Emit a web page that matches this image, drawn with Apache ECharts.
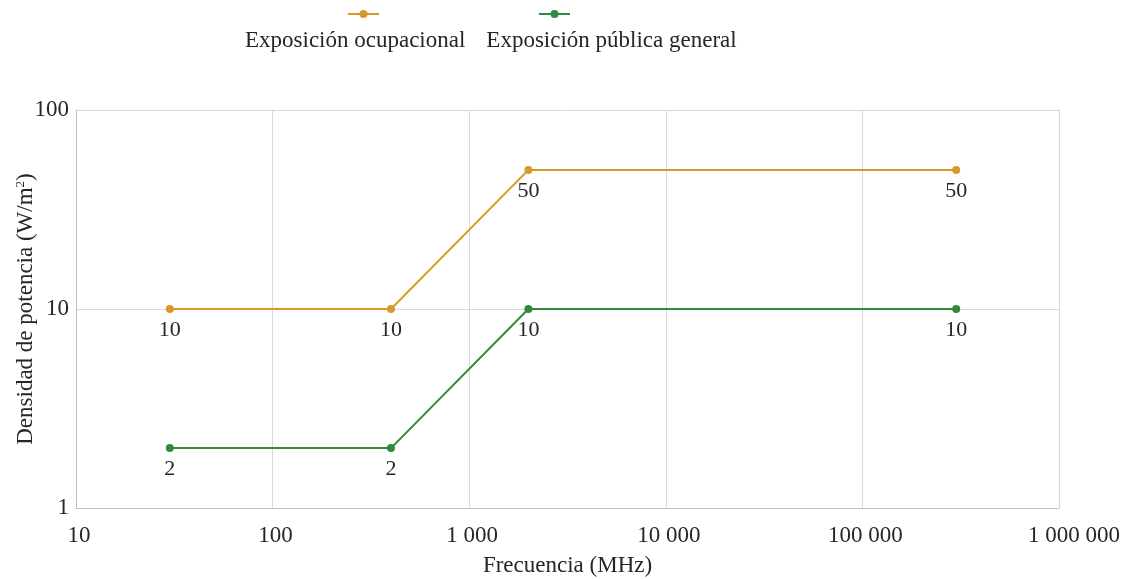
<!DOCTYPE html>
<html><head><meta charset="utf-8">
<script src="https://cdn.jsdelivr.net/npm/echarts@6/dist/echarts.min.js"></script>
<style>html,body{margin:0;padding:0;background:#fff}#c{width:1129px;height:579px}</style>
</head><body><div id="c"></div>
<script>
const seriesNames = ['Exposición ocupacional', 'Exposición pública general'];
const freqOcc = [30, 400, 2000, 300000];
const valOcc = [10, 10, 50, 50];
const freqPub = [30, 400, 2000, 300000];
const valPub = [2, 2, 10, 10];
const colors = ['#D8992B', '#2E8B3E'];

const font = 'Liberation Serif';
const txt = '#262626';
const fmt = v => String(Math.round(v)).replace(/\B(?=(\d{3})+(?!\d))/g, ' ');

const chart = echarts.init(document.getElementById('c'));
chart.setOption({
  animation: false,
  textStyle: { fontFamily: font },
  color: colors,
  legend: [
    {
      data: seriesNames, left: 347, top: 9, padding: 0, itemWidth: 31, itemHeight: 10, itemGap: 158,
      formatter: () => '', selectedMode: false,
      textStyle: { fontFamily: font, fontSize: 23 }
    },
    {
      data: seriesNames, left: 239, top: 29, padding: 0, itemWidth: 0, itemHeight: 0, itemGap: 15,
      selectedMode: false,
      itemStyle: { opacity: 0 }, lineStyle: { opacity: 0 },
      textStyle: { fontFamily: font, fontSize: 23, color: txt }
    }
  ],
  grid: { left: 76, right: 70, top: 110, bottom: 71, containLabel: false, outerBoundsMode: 'none' },
  xAxis: {
    type: 'log', logBase: 10, min: 10, max: 1000000,
    name: 'Frecuencia (MHz)', nameLocation: 'middle', nameGap: 46, nameMoveOverlap: false,
    nameTextStyle: { fontFamily: font, fontSize: 23, color: txt },
    axisLine: { lineStyle: { color: '#bfbfbf' } },
    axisTick: { show: false },
    axisLabel: {
      formatter: v => v >= 1000000 ? '{last|' + fmt(v) + '}' : fmt(v),
      fontFamily: font, fontSize: 23, color: txt, margin: 16, padding: [0, 0, 0, 6],
      rich: { last: { fontFamily: font, fontSize: 23, color: txt, padding: [0, 0, 0, 24] } }
    },
    splitLine: { show: true, lineStyle: { color: '#d9d9d9' } }
  },
  yAxis: {
    type: 'log', logBase: 10, min: 1, max: 100,
    name: 'Densidad de potencia (W/m{sup|2})', nameLocation: 'middle', nameGap: 39, nameMoveOverlap: false,
    nameTextStyle: { fontFamily: font, fontSize: 23, color: txt,
      rich: { sup: { fontFamily: font, fontSize: 13, color: txt, verticalAlign: 'top', padding: [0, 0, 10, 0] } } },
    axisLine: { show: true, lineStyle: { color: '#bfbfbf' } },
    axisTick: { show: false },
    axisLabel: { formatter: fmt, fontFamily: font, fontSize: 23, color: txt, margin: 7 },
    splitLine: { show: true, lineStyle: { color: '#d9d9d9' } }
  },
  series: [
    {
      name: seriesNames[0], type: 'line',
      data: freqOcc.map((f, i) => [f, valOcc[i]]),
      symbol: 'circle', symbolSize: 8,
      lineStyle: { width: 2, color: colors[0] }, itemStyle: { color: colors[0] },
      label: { show: true, position: 'bottom', distance: 6, fontFamily: font, fontSize: 22, color: txt }
    },
    {
      name: seriesNames[1], type: 'line',
      data: freqPub.map((f, i) => [f, valPub[i]]),
      symbol: 'circle', symbolSize: 8,
      lineStyle: { width: 2, color: colors[1] }, itemStyle: { color: colors[1] },
      label: { show: true, position: 'bottom', distance: 6, fontFamily: font, fontSize: 22, color: txt }
    }
  ]
});
</script></body></html>
